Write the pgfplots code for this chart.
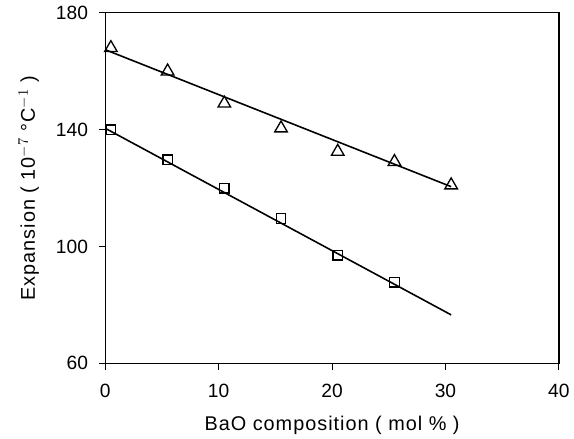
\documentclass[border=0pt]{standalone}
\usepackage{pgfplots}
\pgfplotsset{compat=1.18}
\usepackage{fontspec}
\setmainfont{Liberation Sans}
\newfontfamily\labelfont[LetterSpace=5]{Liberation Sans}
\begin{document}
\begin{tikzpicture}
\begin{axis}[
  name=ax,
  scale only axis,
  width=342.75pt, height=264.75pt,
  xmin=0, xmax=40, ymin=60, ymax=180,
  xtick={0,10,20,30,40}, ytick={60,100,140,180},
  tick align=outside,
  xtick pos=bottom, ytick pos=left,
  major tick length=5pt,
  axis line style={line width=0.9pt},
  every tick/.style={line width=0.8pt, black},
  /pgf/number format/assume math mode=true,
  tick label style={font=\fontsize{14.5}{16}\selectfont},
  yticklabel style={xshift=-4.5pt},
  xticklabel style={yshift=-7pt},
  label style={font=\fontsize{15}{17}\selectfont\labelfont},
  xlabel={BaO composition ( mol \% )},
  ylabel={Expansion ( 10$^{-7}$ \textdegree C$^{-1}$ )},
  xlabel style={yshift=-7pt},
  ylabel style={yshift=6pt},
  clip=false,
]
% triangles
\addplot[only marks, mark=triangle, mark size=5.5pt, line width=1pt, black]
  coordinates {(0.5,168) (5.5,160) (10.5,149) (15.5,140.5) (20.5,132.5) (25.5,129) (30.5,121)};
\addplot[no marks, line width=1.2pt, black] coordinates {(0,167.4) (30.5,120.5)};
% squares
\addplot[only marks, mark=square, mark size=3.6pt, line width=1pt, black]
  coordinates {(0.5,140) (5.5,129.7) (10.5,120) (15.5,109.6) (20.5,97) (25.5,87.8)};
\addplot[no marks, line width=1.2pt, black] coordinates {(0,140.5) (30.5,76.6)};
\end{axis}
\path ([shift={(-79.5pt,-54pt)}]ax.south west) rectangle ([shift={(8.25pt,9.75pt)}]ax.north east);
\end{tikzpicture}
\end{document}
